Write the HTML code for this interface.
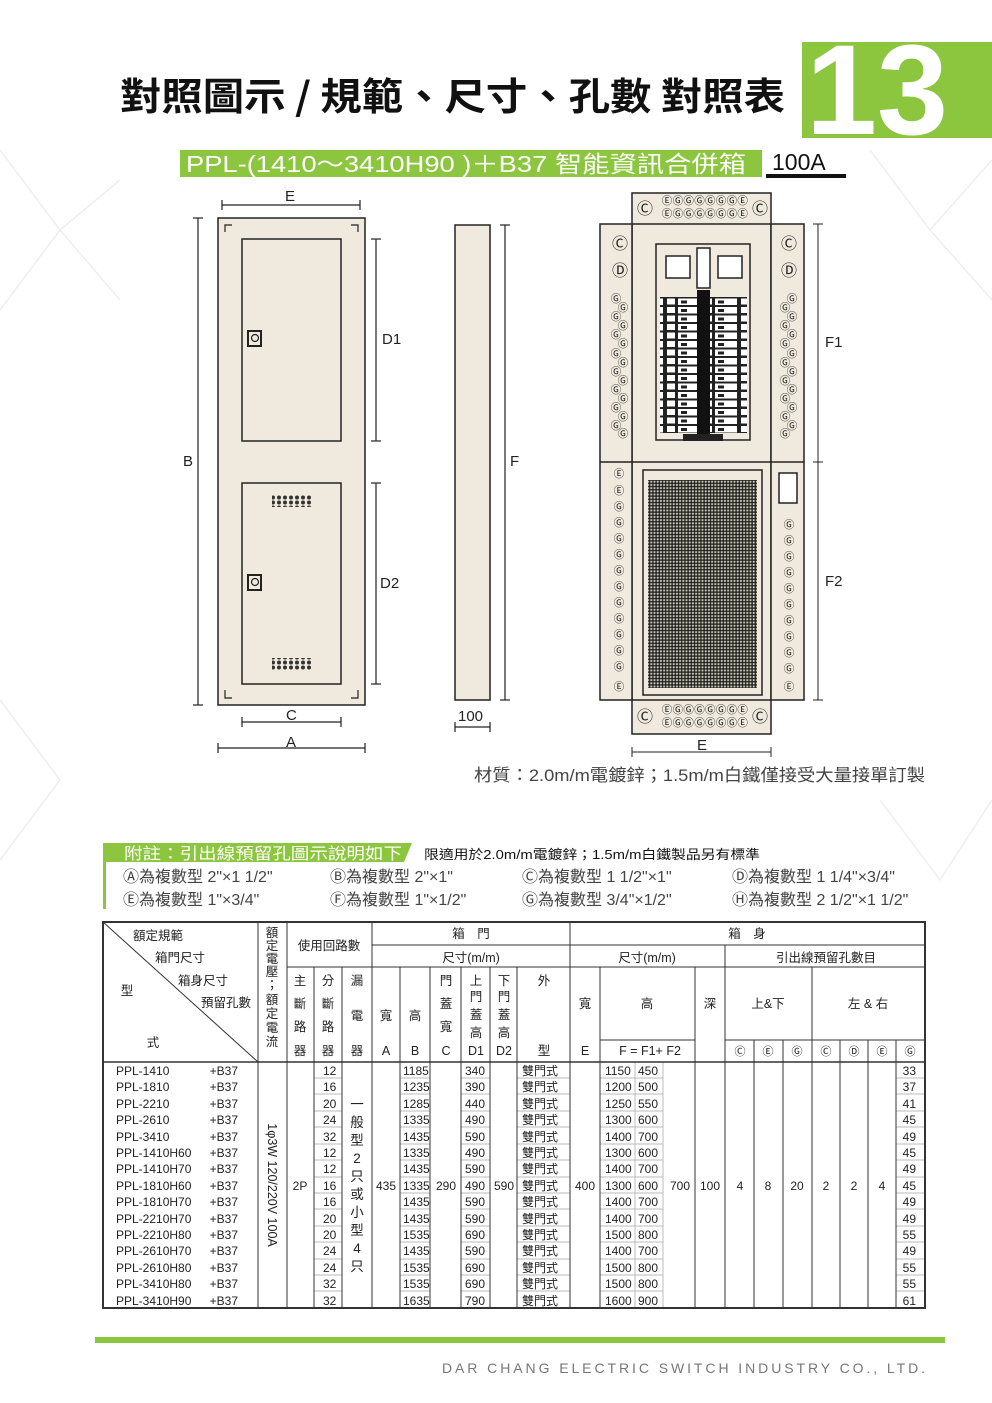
<!DOCTYPE html>
<html><head><meta charset="utf-8"><style>
body{margin:0;width:992px;height:1403px;position:relative;background:#fff;overflow:hidden;font-family:"Liberation Sans","Noto Sans CJK TC",sans-serif}
.a{position:absolute;white-space:nowrap}
</style></head><body>
<svg class="a" style="left:0;top:0" width="992" height="1403">
<defs>
<pattern id="mesh" width="3.2" height="3.2" patternUnits="userSpaceOnUse"><rect width="3.2" height="3.2" fill="#222"/><rect x="0.8" y="0.8" width="1.8" height="1.8" fill="#ddd8c8"/></pattern>
<pattern id="brk" width="37" height="8.5" patternUnits="userSpaceOnUse"><rect width="37" height="8.5" fill="#222"/><rect x="1" y="1" width="8" height="6" fill="#fff"/><rect x="12" y="1" width="22" height="6.5" fill="#fff"/><rect x="15" y="3" width="6" height="3" fill="#222"/></pattern>
<pattern id="vent" width="6" height="5" patternUnits="userSpaceOnUse"><circle cx="3" cy="2.5" r="2" fill="#333"/></pattern>
</defs>
<g stroke="#eee" fill="none" stroke-width="1.5">
<path d="M0 150 L60 230 L0 310 M120 180 L60 230 L120 300 M870 150 L930 230 L992 160 M930 230 L992 300 M0 700 L60 780 L0 860 M880 800 L940 880 L992 800"/>
</g>
<!-- title -->
<text x="120" y="110" font-size="38" font-weight="bold" fill="#111" font-family="Noto Sans CJK TC,Liberation Sans,sans-serif" textLength="665" lengthAdjust="spacingAndGlyphs">對照圖示 / 規範、尺寸、孔數  對照表</text>
<rect x="802" y="42" width="190" height="96" fill="#8cc63f"/>
<text x="806" y="134" font-size="128" font-weight="bold" fill="#fff" font-family="Liberation Sans" textLength="142" lengthAdjust="spacingAndGlyphs">13</text>
<rect x="180" y="150" width="582" height="27" fill="#8cc63f"/>
<text x="186" y="172" font-size="23" fill="#fff" textLength="560" lengthAdjust="spacingAndGlyphs">PPL-(1410～3410H90 )＋B37 智能資訊合併箱</text>
<text x="772" y="170" font-size="23" fill="#111">100A</text>
<rect x="766" y="174" width="80" height="4" fill="#111"/>
<!-- left door diagram -->
<g stroke="#222" stroke-width="1.2" fill="none">
<line x1="222" y1="205" x2="360" y2="205"/><line x1="222" y1="200" x2="222" y2="210"/><line x1="360" y1="200" x2="360" y2="210"/>
<rect x="218" y="218" width="147" height="487" fill="#efeadd" stroke-width="1.5"/>
<path d="M225 232 V225 H232 M358 232 V225 H351 M225 690 V698 H232 M358 690 V698 H351"/>
<rect x="242" y="239" width="99" height="202" stroke-width="1.5"/>
<rect x="242" y="483" width="99" height="201" stroke-width="1.5"/>
<rect x="248" y="331" width="13" height="15" stroke-width="2"/><circle cx="255" cy="338" r="3.5"/>
<rect x="248" y="575" width="13" height="15" stroke-width="2"/><circle cx="255" cy="582" r="3.5"/>
<line x1="198" y1="218" x2="198" y2="705"/><line x1="193" y1="218" x2="203" y2="218"/><line x1="193" y1="705" x2="203" y2="705"/>
<line x1="376" y1="239" x2="376" y2="441"/><line x1="371" y1="239" x2="381" y2="239"/><line x1="371" y1="441" x2="381" y2="441"/>
<line x1="376" y1="483" x2="376" y2="684"/><line x1="371" y1="483" x2="381" y2="483"/><line x1="371" y1="684" x2="381" y2="684"/>
<line x1="242" y1="722" x2="341" y2="722"/><line x1="242" y1="717" x2="242" y2="727"/><line x1="341" y1="717" x2="341" y2="727"/>
<line x1="218" y1="748" x2="365" y2="748"/><line x1="218" y1="743" x2="218" y2="753"/><line x1="365" y1="743" x2="365" y2="753"/>
<rect x="455" y="225" width="35" height="475" fill="#efeadd" stroke-width="1.5"/>
<line x1="505" y1="225" x2="505" y2="700"/><line x1="500" y1="225" x2="510" y2="225"/><line x1="500" y1="700" x2="510" y2="700"/>
<line x1="455" y1="727" x2="490" y2="727"/><line x1="455" y1="722" x2="455" y2="732"/><line x1="490" y1="722" x2="490" y2="732"/>
</g>
<rect x="272" y="495" width="40" height="12" fill="url(#vent)"/>
<rect x="272" y="658" width="40" height="12" fill="url(#vent)"/>
<g font-size="15" fill="#222">
<text x="285" y="201">E</text><text x="382" y="344">D1</text><text x="380" y="588">D2</text>
<text x="183" y="466">B</text><text x="286" y="720">C</text><text x="286" y="747">A</text>
<text x="510" y="466">F</text><text x="458" y="721">100</text>
</g>
<!-- right diagram -->
<g stroke="#222" stroke-width="1.5" fill="#efeadd">
<rect x="632" y="193" width="139" height="541"/>
<rect x="600" y="224" width="32" height="476"/>
<rect x="771" y="224" width="33" height="476"/>
<line x1="632" y1="224" x2="771" y2="224"/><line x1="632" y1="700" x2="771" y2="700"/>
<line x1="600" y1="462" x2="804" y2="462"/>
<rect x="656" y="244" width="94" height="196" fill="#efeadd"/>
<rect x="643" y="470" width="119" height="225"/>
<rect x="779" y="473" width="18" height="30" fill="#fff"/>
</g>
<rect x="648" y="480" width="109" height="208" fill="url(#mesh)"/>
<rect x="660" y="297" width="37" height="136" fill="url(#brk)"/>
<rect x="710" y="297" width="37" height="136" fill="url(#brk)"/>
<rect x="697" y="290" width="13" height="145" fill="#111"/>
<rect x="683" y="434" width="40" height="7" fill="#222"/>
<g stroke="#222" stroke-width="1.5" fill="#fff"><rect x="666" y="256" width="24" height="22"/><rect x="718" y="256" width="24" height="22"/><rect x="697" y="248" width="13" height="40"/></g>
<g stroke="#222" stroke-width="1" fill="none">
<line x1="818" y1="224" x2="818" y2="700"/><line x1="813" y1="224" x2="823" y2="224"/><line x1="813" y1="462" x2="823" y2="462"/><line x1="813" y1="700" x2="823" y2="700"/>
<line x1="632" y1="752" x2="771" y2="752"/><line x1="632" y1="747" x2="632" y2="757"/><line x1="771" y1="747" x2="771" y2="757"/>
</g>
<g font-size="15" fill="#222"><text x="825" y="347">F1</text><text x="825" y="586">F2</text><text x="697" y="750">E</text></g>
<g font-family="DejaVu Sans" fill="#222" text-anchor="middle">
<g font-size="16"><text x="645" y="214">Ⓒ</text><text x="760" y="214">Ⓒ</text><text x="645" y="722">Ⓒ</text><text x="760" y="722">Ⓒ</text>
<text x="620" y="249">Ⓒ</text><text x="620" y="276">Ⓓ</text><text x="789" y="249">Ⓒ</text><text x="789" y="276">Ⓓ</text></g>
<g font-size="10.5">
<text x="705" y="204" letter-spacing="0.3">ⒺⒼⒼⒼⒼⒼⒼⒺ</text><text x="705" y="217" letter-spacing="0.3">ⒺⒼⒼⒼⒼⒼⒼⒺ</text>
<text x="705" y="713" letter-spacing="0.3">ⒺⒼⒼⒼⒼⒼⒼⒺ</text><text x="705" y="726" letter-spacing="0.3">ⒺⒼⒼⒼⒼⒼⒼⒺ</text>
<text x="616" y="302">Ⓖ</text><text x="623" y="311">Ⓖ</text><text x="616" y="320">Ⓖ</text><text x="623" y="329">Ⓖ</text><text x="616" y="338">Ⓖ</text><text x="623" y="347">Ⓖ</text><text x="616" y="357">Ⓖ</text><text x="623" y="366">Ⓖ</text><text x="616" y="375">Ⓖ</text><text x="623" y="384">Ⓖ</text><text x="616" y="393">Ⓖ</text><text x="623" y="402">Ⓖ</text><text x="616" y="411">Ⓖ</text><text x="623" y="420">Ⓖ</text><text x="616" y="429">Ⓖ</text><text x="623" y="437">Ⓖ</text>
<text x="792" y="302">Ⓖ</text><text x="785" y="311">Ⓖ</text><text x="792" y="320">Ⓖ</text><text x="785" y="329">Ⓖ</text><text x="792" y="338">Ⓖ</text><text x="785" y="347">Ⓖ</text><text x="792" y="357">Ⓖ</text><text x="785" y="366">Ⓖ</text><text x="792" y="375">Ⓖ</text><text x="785" y="384">Ⓖ</text><text x="792" y="393">Ⓖ</text><text x="785" y="402">Ⓖ</text><text x="792" y="411">Ⓖ</text><text x="785" y="420">Ⓖ</text><text x="792" y="429">Ⓖ</text><text x="785" y="437">Ⓖ</text>
<text x="619" y="477">Ⓔ</text><text x="619" y="494">Ⓔ</text><text x="619" y="510">Ⓖ</text><text x="619" y="526">Ⓖ</text><text x="619" y="542">Ⓖ</text><text x="619" y="558">Ⓖ</text><text x="619" y="574">Ⓖ</text><text x="619" y="590">Ⓖ</text><text x="619" y="606">Ⓖ</text><text x="619" y="622">Ⓖ</text><text x="619" y="638">Ⓖ</text><text x="619" y="654">Ⓖ</text><text x="619" y="670">Ⓖ</text><text x="619" y="690">Ⓔ</text>
<text x="789" y="528">Ⓖ</text><text x="789" y="544">Ⓖ</text><text x="789" y="560">Ⓖ</text><text x="789" y="576">Ⓖ</text><text x="789" y="592">Ⓖ</text><text x="789" y="608">Ⓖ</text><text x="789" y="624">Ⓖ</text><text x="789" y="640">Ⓖ</text><text x="789" y="656">Ⓖ</text><text x="789" y="672">Ⓖ</text><text x="789" y="690">Ⓔ</text>
</g></g>
<text x="474" y="781" font-size="17" fill="#444" textLength="451" lengthAdjust="spacingAndGlyphs">材質：2.0m/m電鍍鋅；1.5m/m白鐵僅接受大量接單訂製</text>
<!-- notes -->
<path d="M103 843 H412 L404 862 H103 Z" fill="#8cc63f"/>
<rect x="103" y="843" width="3" height="66" fill="#8cc63f"/>
<text x="124" y="859" font-size="16" fill="#fff" textLength="278" lengthAdjust="spacingAndGlyphs">附註：引出線預留孔圖示說明如下</text>
<text x="424" y="859" font-size="13" fill="#111" textLength="336" lengthAdjust="spacingAndGlyphs">限適用於2.0m/m電鍍鋅；1.5m/m白鐵製品另有標準</text>
<g font-size="16" fill="#444">
<text x="123" y="882">Ⓐ為複數型 2"×1 1/2"</text><text x="330" y="882">Ⓑ為複數型 2"×1"</text><text x="522" y="882">Ⓒ為複數型 1 1/2"×1"</text><text x="732" y="882">Ⓓ為複數型 1 1/4"×3/4"</text>
<text x="123" y="905">Ⓔ為複數型 1"×3/4"</text><text x="330" y="905">Ⓕ為複數型 1"×1/2"</text><text x="522" y="905">Ⓖ為複數型 3/4"×1/2"</text><text x="732" y="905">Ⓗ為複數型 2 1/2"×1 1/2"</text>
</g>
<!-- table -->
<g stroke="#bbb" stroke-width="1">
<path d="M314 1078 H342 M314 1094 H342 M314 1111 H342 M314 1127 H342 M314 1144 H342 M314 1160 H342 M314 1177 H342 M314 1193 H342 M314 1209 H342 M314 1226 H342 M314 1242 H342 M314 1259 H342 M314 1275 H342 M314 1291 H342"/>
<path d="M400 1078 H490 M400 1094 H490 M400 1111 H490 M400 1127 H490 M400 1144 H490 M400 1160 H490 M400 1177 H490 M400 1193 H490 M400 1209 H490 M400 1226 H490 M400 1242 H490 M400 1259 H490 M400 1275 H490 M400 1291 H490" stroke-dasharray="30 31"/>
<path d="M517 1078 H663 M517 1094 H663 M517 1111 H663 M517 1127 H663 M517 1144 H663 M517 1160 H663 M517 1177 H663 M517 1193 H663 M517 1209 H663 M517 1226 H663 M517 1242 H663 M517 1259 H663 M517 1275 H663 M517 1291 H663" stroke-dasharray="53 30 63"/>
<path d="M896 1078 H925 M896 1094 H925 M896 1111 H925 M896 1127 H925 M896 1144 H925 M896 1160 H925 M896 1177 H925 M896 1193 H925 M896 1209 H925 M896 1226 H925 M896 1242 H925 M896 1259 H925 M896 1275 H925 M896 1291 H925"/>
<path d="M635 1062 V1308 M663 1062 V1308"/>
</g>
<g stroke="#333" stroke-width="1" fill="none">
<rect x="103" y="922" width="822" height="386" stroke-width="2"/>
<line x1="103" y1="1062" x2="925" y2="1062" stroke-width="1.5"/>
<line x1="103" y1="922" x2="258" y2="1062"/>
<path d="M258 922 V1308 M287 922 V1308 M372 922 V1308 M570 922 V1308"/>
<path d="M372 945 H925 M372 967 H925 M287 967 H372"/>
<path d="M314 967 V1308 M342 967 V1308 M400 967 V1308 M430 967 V1308 M461 967 V1308 M490 967 V1308 M517 967 V1308"/>
<path d="M600 967 V1308 M695 967 V1308 M725 945 V1308 M812 967 V1308"/>
<path d="M600 1040 H695 M725 1040 H925"/>
<path d="M754 1040 V1308 M783 1040 V1308 M840 1040 V1308 M868 1040 V1308 M896 1040 V1308"/>
</g>
<g font-size="12.5" fill="#222" font-family="Liberation Sans,Noto Sans CJK TC,sans-serif" text-anchor="middle">
<text x="158" y="940">額定規範</text><text x="180" y="962">箱門尺寸</text><text x="203" y="985">箱身尺寸</text><text x="226" y="1007">預留孔數</text>
<text x="127" y="995">型</text><text x="153" y="1047">式</text>
<text x="272" y="937">額</text><text x="272" y="950">定</text><text x="272" y="963">電</text><text x="272" y="976">壓</text><text x="272" y="989">；</text><text x="272" y="1004">額</text><text x="272" y="1018">定</text><text x="272" y="1032">電</text><text x="272" y="1046">流</text>
<text x="329" y="950">使用回路數</text>
<text x="300" y="985">主</text><text x="300" y="1008">斷</text><text x="300" y="1031">路</text><text x="300" y="1055">器</text>
<text x="328" y="985">分</text><text x="328" y="1008">斷</text><text x="328" y="1031">路</text><text x="328" y="1055">器</text>
<text x="357" y="985">漏</text><text x="357" y="1020">電</text><text x="357" y="1055">器</text>
<text x="471" y="938">箱　門</text><text x="471" y="962">尺寸(m/m)</text>
<text x="386" y="1020">寬</text><text x="386" y="1055">A</text><text x="415" y="1020">高</text><text x="415" y="1055">B</text>
<text x="446" y="985">門</text><text x="446" y="1008">蓋</text><text x="446" y="1031">寬</text><text x="446" y="1055">C</text>
<text x="476" y="985">上</text><text x="476" y="1001">門</text><text x="476" y="1019">蓋</text><text x="476" y="1037">高</text><text x="476" y="1055">D1</text>
<text x="504" y="985">下</text><text x="504" y="1001">門</text><text x="504" y="1019">蓋</text><text x="504" y="1037">高</text><text x="504" y="1055">D2</text>
<text x="544" y="985">外</text><text x="544" y="1055">型</text>
<text x="747" y="938">箱　身</text><text x="647" y="962">尺寸(m/m)</text><text x="826" y="962">引出線預留孔數目</text>
<text x="585" y="1008">寬</text><text x="585" y="1055">E</text><text x="647" y="1008">高</text><text x="650" y="1055">F = F1+ F2</text><text x="710" y="1008">深</text>
<text x="768" y="1008">上&amp;下</text><text x="868" y="1008">左 &amp; 右</text>
<g font-family="DejaVu Sans" font-size="11"><text x="740" y="1055">Ⓒ</text><text x="768" y="1055">Ⓔ</text><text x="797" y="1055">Ⓖ</text><text x="826" y="1055">Ⓒ</text><text x="854" y="1055">Ⓓ</text><text x="882" y="1055">Ⓔ</text><text x="910" y="1055">Ⓖ</text></g>
<g font-size="12"><text x="300" y="1190">2P</text><text x="386" y="1190">435</text><text x="446" y="1190">290</text><text x="504" y="1190">590</text><text x="585" y="1190">400</text><text x="680" y="1190">700</text><text x="710" y="1190">100</text><text x="740" y="1190">4</text><text x="768" y="1190">8</text><text x="797" y="1190">20</text><text x="826" y="1190">2</text><text x="854" y="1190">2</text><text x="882" y="1190">4</text></g>
<g font-size="13.5"><text x="357" y="1109">一</text><text x="357" y="1127">般</text><text x="357" y="1145">型</text><text x="357" y="1163">2</text><text x="357" y="1181">只</text><text x="357" y="1199">或</text><text x="357" y="1217">小</text><text x="357" y="1235">型</text><text x="357" y="1253">4</text><text x="357" y="1271">只</text></g>
<text transform="translate(268,1185) rotate(90)" font-size="12.5">1φ3W 120/220V 100A</text>
</g>
<g font-size="12" fill="#222">
<g transform="translate(116,0)"><text y="1075">PPL-1410</text><text y="1091">PPL-1810</text><text y="1108">PPL-2210</text><text y="1124">PPL-2610</text><text y="1141">PPL-3410</text><text y="1157">PPL-1410H60</text><text y="1173">PPL-1410H70</text><text y="1190">PPL-1810H60</text><text y="1206">PPL-1810H70</text><text y="1223">PPL-2210H70</text><text y="1239">PPL-2210H80</text><text y="1255">PPL-2610H70</text><text y="1272">PPL-2610H80</text><text y="1288">PPL-3410H80</text><text y="1305">PPL-3410H90</text></g>
<g transform="translate(238,0)" text-anchor="end"><text y="1075">+B37</text><text y="1091">+B37</text><text y="1108">+B37</text><text y="1124">+B37</text><text y="1141">+B37</text><text y="1157">+B37</text><text y="1173">+B37</text><text y="1190">+B37</text><text y="1206">+B37</text><text y="1223">+B37</text><text y="1239">+B37</text><text y="1255">+B37</text><text y="1272">+B37</text><text y="1288">+B37</text><text y="1305">+B37</text></g>
<g transform="translate(323,0)"><text y="1075">12</text><text y="1091">16</text><text y="1108">20</text><text y="1124">24</text><text y="1141">32</text><text y="1157">12</text><text y="1173">12</text><text y="1190">16</text><text y="1206">16</text><text y="1223">20</text><text y="1239">20</text><text y="1255">24</text><text y="1272">24</text><text y="1288">32</text><text y="1305">32</text></g>
<g transform="translate(403,0)"><text y="1075">1185</text><text y="1091">1235</text><text y="1108">1285</text><text y="1124">1335</text><text y="1141">1435</text><text y="1157">1335</text><text y="1173">1435</text><text y="1190">1335</text><text y="1206">1435</text><text y="1223">1435</text><text y="1239">1535</text><text y="1255">1435</text><text y="1272">1535</text><text y="1288">1535</text><text y="1305">1635</text></g>
<g transform="translate(465,0)"><text y="1075">340</text><text y="1091">390</text><text y="1108">440</text><text y="1124">490</text><text y="1141">590</text><text y="1157">490</text><text y="1173">590</text><text y="1190">490</text><text y="1206">590</text><text y="1223">590</text><text y="1239">690</text><text y="1255">590</text><text y="1272">690</text><text y="1288">690</text><text y="1305">790</text></g>
<g transform="translate(522,0)"><text y="1075">雙門式</text><text y="1091">雙門式</text><text y="1108">雙門式</text><text y="1124">雙門式</text><text y="1141">雙門式</text><text y="1157">雙門式</text><text y="1173">雙門式</text><text y="1190">雙門式</text><text y="1206">雙門式</text><text y="1223">雙門式</text><text y="1239">雙門式</text><text y="1255">雙門式</text><text y="1272">雙門式</text><text y="1288">雙門式</text><text y="1305">雙門式</text></g>
<g transform="translate(605,0)"><text y="1075">1150</text><text y="1091">1200</text><text y="1108">1250</text><text y="1124">1300</text><text y="1141">1400</text><text y="1157">1300</text><text y="1173">1400</text><text y="1190">1300</text><text y="1206">1400</text><text y="1223">1400</text><text y="1239">1500</text><text y="1255">1400</text><text y="1272">1500</text><text y="1288">1500</text><text y="1305">1600</text></g>
<g transform="translate(638,0)"><text y="1075">450</text><text y="1091">500</text><text y="1108">550</text><text y="1124">600</text><text y="1141">700</text><text y="1157">600</text><text y="1173">700</text><text y="1190">600</text><text y="1206">700</text><text y="1223">700</text><text y="1239">800</text><text y="1255">700</text><text y="1272">800</text><text y="1288">800</text><text y="1305">900</text></g>
<g transform="translate(916,0)" text-anchor="end"><text y="1075">33</text><text y="1091">37</text><text y="1108">41</text><text y="1124">45</text><text y="1141">49</text><text y="1157">45</text><text y="1173">49</text><text y="1190">45</text><text y="1206">49</text><text y="1223">49</text><text y="1239">55</text><text y="1255">49</text><text y="1272">55</text><text y="1288">55</text><text y="1305">61</text></g>
</g>
<rect x="95" y="1337" width="850" height="6" fill="#8cc63f"/>
<text x="442" y="1373" font-size="14" fill="#777" textLength="483" lengthAdjust="spacing">DAR CHANG ELECTRIC SWITCH INDUSTRY CO., LTD.</text>
</svg>
</body></html>
